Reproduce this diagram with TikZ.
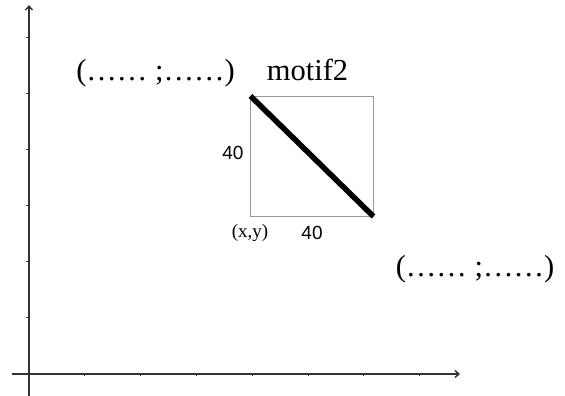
\documentclass[tikz,border=0pt]{standalone}
\usepackage{fontspec}
\setmainfont{Liberation Serif}
\setsansfont{Liberation Sans}
\usetikzlibrary{arrows.meta,positioning,calc}

\begin{document}
\begin{tikzpicture}[
  x=1pt, y=1pt,
  axis/.style={line width=1.4pt, black!80, -{Straight Barb[length=4pt, width=7pt]}},
  tick/.style={line width=1pt, black!80},
  frame/.style={draw=black!40, line width=0.8pt},
  motif/.style={line width=5.5pt, black},
  big/.style={font=\fontsize{30.5}{36}\selectfont, inner sep=0pt, anchor=base},
  dim/.style={font=\sffamily\fontsize{19}{21}\selectfont, inner sep=0pt},
  corner/.style={font=\fontsize{19}{21}\selectfont, inner sep=0pt}
]
\useasboundingbox (0,0) rectangle (565,396);
% axes
\coordinate (O) at (29,22);
\draw[axis] (29,0) -- (29,391);
\draw[axis] (12,22) -- (460,22);
\foreach \k in {1,...,6}
  \draw[tick] ($(O)+(0,56*\k)$) -- ++(-3,0);
\foreach \k in {1,...,7}
  \draw[tick] ($(O)+(55.8*\k,0)$) -- ++(0,-2.5);
% motif2 square
\coordinate (xy) at (250.5,179.5);
\coordinate (tr) at (373.5,300);
\draw[frame] (xy) rectangle (tr);
\draw[motif] (xy |- tr) -- (tr |- xy);
% labels
\node[dim] (hgt) at (233,243.3) {40};
\node[dim] (wid) at (312,163) {40};
\node[corner] (pxy) at (250,163.3) {(x,y)};
\node[big] (ptop) at (155.5,315) {(…… ;……)};
\node[big] (name) at (307.5,315) {motif2};
\node[big] (pbot) at (475,119.5) {(…… ;……)};
\end{tikzpicture}
\end{document}
